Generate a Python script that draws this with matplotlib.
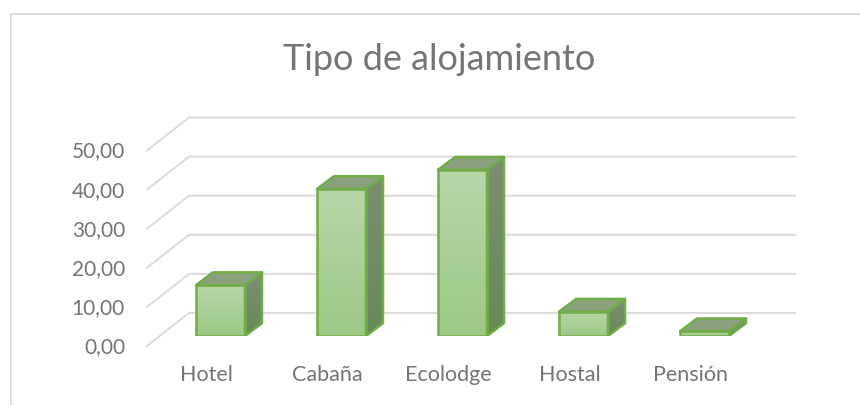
import numpy as np
import matplotlib
matplotlib.use('Agg')
import matplotlib.pyplot as plt
from matplotlib.patches import Polygon

categories = ['Hotel', 'Cabaña', 'Ecolodge', 'Hostal', 'Pensión']
values = [13.0, 37.6, 42.5, 6.2, 1.2]
y_ticks = [0, 10, 20, 30, 40, 50]
y_labels = ['0,00', '10,00', '20,00', '30,00', '40,00', '50,00']

W, H = 860, 405
plt.rcParams['font.family'] = ['Lato', 'DejaVu Sans']

fig = plt.figure(figsize=(W / 100, H / 100), dpi=100)

# axes on the bar front plane: one category = 121 px, ten units = 39.1 px
left, right = 160, 160 + 121 * 5
bottom, top = 336, 336 - 39.1 * 5
ax = fig.add_axes([left / W, 1 - bottom / H, (right - left) / W, (bottom - top) / H])
ax.set_xlim(-0.5, 4.5)
ax.set_ylim(0, 50)
ax.axis('off')

ux = 121.0
uy = 3.91
bar_w = 49 / ux
dep_x = 17 / ux
dep_y = 12.8 / uy
text_c = '#757575'


def shaded(poly, c_top, c_bot, y_low, y_high):
    # vertical gradient clipped to a polygon
    grad = np.linspace(0, 1, 64)[:, None, None]
    c0 = np.array(matplotlib.colors.to_rgb(c_top))
    c1 = np.array(matplotlib.colors.to_rgb(c_bot))
    img = c0 * (1 - grad) + c1 * grad
    xs = [p[0] for p in poly]
    im = ax.imshow(img, extent=[min(xs), max(xs), y_low, y_high], origin='upper',
                   aspect='auto', zorder=3, interpolation='bilinear')
    patch = Polygon(poly, closed=True, transform=ax.transData, fc='none', ec='none')
    ax.add_patch(patch)
    im.set_clip_path(patch)
    ax.add_patch(Polygon(poly, closed=True, fc='none', ec='#70ad47', lw=1.8,
                         joinstyle='round', zorder=4))


# gridlines: floor front edge, then back wall
grid_c = '#dcdcdc'
front_dx = -13 / ux
front_dy = -10 / uy
back_dx = 29 / ux
back_dy = 23 / uy
back_end = 4.5 + 30 / ux
for v, lab in zip(y_ticks, y_labels):
    ax.plot([-0.5 + front_dx, -0.5 + back_dx, back_end],
            [v + front_dy, v + back_dy, v + back_dy],
            color=grid_c, lw=1.5, zorder=1, clip_on=False, solid_joinstyle='miter')
    ax.text(-0.5 + front_dx - 22 / ux, v + front_dy - 1 / uy, lab,
            ha='right', va='center', fontsize=15, color=text_c)

for i, (name, val) in enumerate(zip(categories, values)):
    x0 = i - bar_w / 2
    x1 = i + bar_w / 2
    shaded([(x0, val), (x1, val), (x1 + dep_x, val + dep_y), (x0 + dep_x, val + dep_y)],
           '#8ba37f', '#87a07a', val, val + dep_y)
    shaded([(x1, 0), (x1 + dep_x, dep_y), (x1 + dep_x, val + dep_y), (x1, val)],
           '#7a8f72', '#668a58', 0, val + dep_y)
    shaded([(x0, 0), (x1, 0), (x1, val), (x0, val)],
           '#b7d7a8', '#9dc885', 0, val)
    ax.text(i - 14 / ux, -39 / uy, name, ha='center', va='center', fontsize=15.5,
            color=text_c)

fig.text(439.5 / W, 1 - 60 / H, 'Tipo de alojamiento', ha='center', va='center',
         fontsize=26, color=text_c)

# chart frame: only the top and left edges show in the crop
fig.add_artist(plt.Line2D([10.5 / W, 10.5 / W, 1],
                          [0, 1 - 14 / H, 1 - 14 / H],
                          color='#d9d9d9', lw=1.3))

fig.savefig('out.png', dpi=100)
